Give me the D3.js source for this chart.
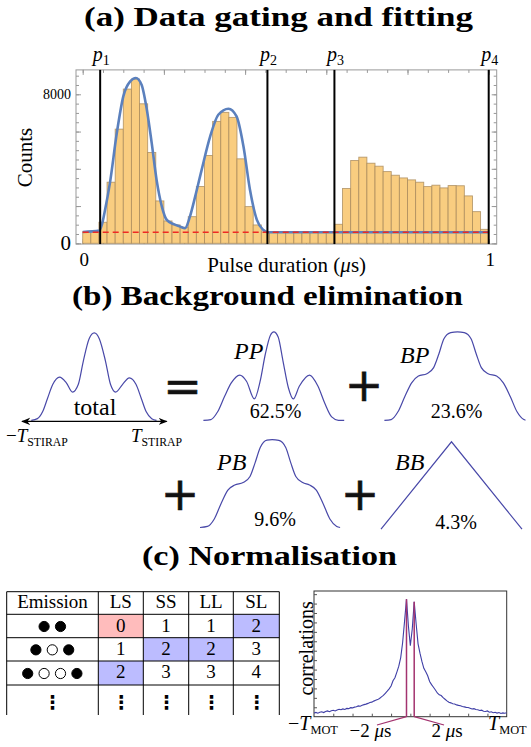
<!DOCTYPE html>
<html>
<head>
<meta charset="utf-8">
<script src="https://cdn.jsdelivr.net/npm/d3@7"></script>
<style>
body{margin:0;background:#fff;}
svg{display:block;}
</style>
</head>
<body>
<svg id="fig" width="531" height="747" font-family="'Liberation Serif', 'Times New Roman', 'DejaVu Serif', serif"></svg>
<script>
// ---- data ----
var panelTitles = ["(a) Data gating and fitting", "(b) Background elimination", "(c) Normalisation"];

// (a) histogram of pulse durations, bins of 0.02 us
var binWidth = 0.02;
var barCounts = [625, 660, 1130, 3280, 6130, 8280, 8820, 7490, 4875, 2275,
                 1200, 985, 860, 1430, 3050, 4715, 6545, 7030, 6760, 4535,
                 1970, 985, 610, 600, 600, 600, 600, 600, 600, 600,
                 600, 1020, 2940, 4445, 4625, 4300, 4140, 3850, 3655, 3510,
                 3405, 3280, 3045, 3120, 2975, 3100, 3090, 2545, 1700, 750];
// fitted curve
var fitX = [0, 0.041, 0.047, 0.055, 0.067, 0.084, 0.100, 0.117, 0.131, 0.145, 0.158, 0.170, 0.182, 0.195, 0.207,
            0.223, 0.240, 0.252, 0.264, 0.277, 0.293, 0.314, 0.334, 0.359, 0.379, 0.396, 0.412, 0.429, 0.445, 0.457, 1.0];
var fitY = [610, 680, 985, 1790, 3230, 5920, 7890, 8695, 8875, 8515, 7170, 5380, 3405, 1970, 1255,
            1040, 895, 805, 1430, 2505, 3945, 5735, 6900, 7225, 6810, 5195, 2870, 1255, 715, 590, 590];
var bgLevel = 590;
var gatePos = [0.043, 0.455, 0.62, 1.0];
var gateNames = ["1", "2", "3", "4"];
var countLabels = [0, 8000];
var durLabels = [0, 1];

// (b) correlation shapes, normalised [t, height]
var totalShape = [[0,0],[0.049,0.019],[0.09,0.097],[0.13,0.253],[0.171,0.409],[0.226,0.494],[0.28,0.428],[0.329,0.323],
  [0.375,0.409],[0.416,0.681],[0.462,0.934],[0.503,1],[0.543,0.934],[0.592,0.681],[0.633,0.409],[0.674,0.323],
  [0.728,0.409],[0.783,0.486],[0.837,0.409],[0.878,0.253],[0.918,0.097],[0.962,0.019],[1,0]];
var ppShape = [[0,0],[0.053,0.008],[0.101,0.096],[0.15,0.269],[0.198,0.423],[0.258,0.512],[0.306,0.442],[0.362,0.242],
  [0.403,0.442],[0.44,0.75],[0.476,0.962],[0.5,1],[0.531,0.942],[0.565,0.673],[0.604,0.365],[0.638,0.242],
  [0.681,0.385],[0.754,0.512],[0.814,0.385],[0.862,0.192],[0.911,0.038],[0.959,0],[1,0]];
var bpShape = [[0,0],[0.048,0.008],[0.096,0.096],[0.145,0.269],[0.193,0.423],[0.241,0.5],[0.301,0.527],[0.349,0.596],
  [0.386,0.75],[0.422,0.923],[0.47,0.992],[0.518,1],[0.566,0.992],[0.614,0.923],[0.651,0.75],[0.687,0.596],
  [0.735,0.527],[0.795,0.5],[0.843,0.423],[0.892,0.269],[0.94,0.096],[0.988,0.008],[1,0]];
var pbShape = [[0,0],[0.053,0.012],[0.102,0.097],[0.15,0.271],[0.199,0.426],[0.248,0.484],[0.308,0.512],[0.357,0.581],
  [0.393,0.736],[0.43,0.911],[0.478,0.996],[0.515,1],[0.563,0.992],[0.612,0.911],[0.648,0.736],[0.684,0.581],
  [0.733,0.512],[0.782,0.484],[0.83,0.426],[0.879,0.271],[0.927,0.097],[0.976,0.012],[1,0]];
var bbShape = [[0,0],[0.5,1],[1,0]];
var shapeNames = ["PP", "BP", "PB", "BB"];
var shareLabels = ["62.5%", "23.6%", "9.6%", "4.3%"];

// (c) table
var tableHead = ["Emission", "LS", "SS", "LL", "SL"];
var emission = [[1,1],[1,0,1],[1,0,0,1]];
var tableVals = [[0,1,1,2],[1,2,2,3],[2,3,3,4]];

// (c) correlations, t from -50 to 50 (step 1)
var corrY = [3.0,3.4,2.8,3.5,3.9,3.3,4.2,4.6,4.0,4.8,
  5.1,4.6,5.4,5.9,5.5,6.2,5.8,6.6,6.4,7.2,
  7.0,7.6,7.9,8.6,8.3,9.1,9.6,10.0,10.6,11.3,
  11.6,12.4,13.0,13.6,14.5,15.8,16.9,18.6,20.3,22.1,
  24.4,28.6,31.0,35.5,40.2,47.0,59.0,76.0,93.5,72.0,
  56.5,
  70.0,91.5,74.0,58.0,50.5,44.0,38.5,35.8,32.6,28.0,
  25.5,23.4,21.2,18.9,17.4,16.8,15.1,13.9,12.6,11.5,
  11.0,10.3,10.1,9.4,9.0,8.7,8.1,7.8,7.4,7.3,
  6.8,6.1,6.4,5.7,5.5,4.9,5.2,4.4,4.1,4.6,
  3.6,3.9,3.2,3.5,2.9,3.3,2.6,3.0,2.7,3.1];
var corrT = d3.range(-50, 51);
var gapMarks = [-2, 2];

var svg = d3.select("#fig");

// ---- titles ----
var titlePos = [[84, 26, 389], [72, 305, 391], [142, 565, 255]];
svg.selectAll(".title").data(panelTitles).join("text")
  .attr("class", "title")
  .attr("x", (d, i) => titlePos[i][0]).attr("y", (d, i) => titlePos[i][1])
  .attr("textLength", (d, i) => titlePos[i][2]).attr("lengthAdjust", "spacingAndGlyphs")
  .attr("font-size", 27).attr("font-weight", "bold")
  .text(d => d);

// ================= (a) =================
var xA = d3.scaleLinear().domain([0, 1]).range([82.7, 488.7]);
var yA = d3.scaleLinear().domain([0, 8000]).range([243.3, 94.3]);
var fA = {x0: xA(-0.0165), x1: xA(1.0197), y0: yA(-40), y1: yA(9310)};

var gA = svg.append("g");
gA.append("rect").attr("x", fA.x0).attr("y", fA.y1)
  .attr("width", fA.x1 - fA.x0).attr("height", fA.y0 - fA.y1)
  .attr("fill", "none").attr("stroke", "#999").attr("stroke-width", 1);

function ticks(axis, tx, ty) {
  gA.append("g").attr("transform", "translate(" + tx + "," + ty + ")")
    .call(axis.tickFormat(""))
    .call(g => g.select(".domain").remove())
    .selectAll("line").attr("stroke", "#999");
}
var cMinor = d3.range(0, 9001, 500), cMajor = d3.range(0, 8001, 2000);
var tMinor = d3.range(0, 1.001, 0.05), tMajor = d3.range(0, 1.001, 0.2);
ticks(d3.axisLeft(yA).tickValues(cMinor).tickSize(-3), fA.x0, 0);
ticks(d3.axisLeft(yA).tickValues(cMajor).tickSize(-5), fA.x0, 0);
ticks(d3.axisRight(yA).tickValues(cMinor).tickSize(-3), fA.x1, 0);
ticks(d3.axisRight(yA).tickValues(cMajor).tickSize(-5), fA.x1, 0);
ticks(d3.axisBottom(xA).tickValues(tMinor).tickSize(-3), 0, fA.y0);
ticks(d3.axisBottom(xA).tickValues(tMajor).tickSize(-5), 0, fA.y0);
ticks(d3.axisTop(xA).tickValues(tMinor).tickSize(-3), 0, fA.y1);
ticks(d3.axisTop(xA).tickValues(tMajor).tickSize(-5), 0, fA.y1);

// bars
gA.append("g").selectAll("rect").data(barCounts).join("rect")
  .attr("x", (d, i) => xA(i * binWidth))
  .attr("width", xA(binWidth) - xA(0))
  .attr("y", d => yA(d))
  .attr("height", d => yA(0) - yA(d))
  .attr("fill", "#f9cd80")
  .attr("stroke", "#a8885a").attr("stroke-opacity", 0.8).attr("stroke-width", 0.9);

// fit
var fitPts = fitX.map((t, i) => [t, fitY[i]]);
gA.append("path").datum(fitPts)
  .attr("d", d3.line().x(d => xA(d[0])).y(d => yA(d[1])).curve(d3.curveMonotoneX))
  .attr("fill", "none").attr("stroke", "#5b80bd").attr("stroke-width", 2.6);

// background level
gA.append("line")
  .attr("x1", xA(0)).attr("x2", xA(1)).attr("y1", yA(bgLevel)).attr("y2", yA(bgLevel))
  .attr("stroke", "#ee2a24").attr("stroke-width", 1.4).attr("stroke-dasharray", "6,4");

// gates
var gates = gA.append("g").selectAll("g").data(gatePos).join("g");
gates.append("line")
  .attr("x1", d => xA(d)).attr("x2", d => xA(d))
  .attr("y1", fA.y1).attr("y2", fA.y0)
  .attr("stroke", "#000").attr("stroke-width", 2);
gates.append("text")
  .attr("x", d => xA(d) + 1).attr("y", 61)
  .attr("text-anchor", "middle").attr("font-size", 20)
  .each(function(d, i) {
    var t = d3.select(this);
    t.append("tspan").attr("font-style", "italic").text("p");
    t.append("tspan").attr("dy", 4).attr("font-size", 14).text(gateNames[i]);
  });

// axis labels
gA.selectAll(".clab").data(countLabels).join("text")
  .attr("class", "clab")
  .attr("x", 71).attr("y", d => yA(d) + (d === 0 ? 7 : 5))
  .attr("text-anchor", "end")
  .attr("font-size", d => d === 0 ? 21 : 14)
  .text(d => d);
gA.selectAll(".tlab").data(durLabels).join("text")
  .attr("class", "tlab")
  .attr("x", d => xA(d) + 1.5).attr("y", 265.5)
  .attr("text-anchor", "middle").attr("font-size", 19)
  .text(d => d);
var xTitle = gA.append("text").attr("x", 286.7).attr("y", 272.3)
  .attr("text-anchor", "middle").attr("font-size", 21);
xTitle.append("tspan").text("Pulse duration (");
xTitle.append("tspan").attr("font-style", "italic").text("μ");
xTitle.append("tspan").text("s)");
gA.append("text").attr("transform", "translate(32.3,157.5) rotate(-90)")
  .attr("text-anchor", "middle").attr("font-size", 21).text("Counts");

// ================= (b) =================
var gB = svg.append("g");
var blue = "#4848a8";
function drawShape(shape, box) {
  var sx = d3.scaleLinear().domain([0, 1]).range([box[0], box[1]]);
  var sy = d3.scaleLinear().domain([0, 1]).range([box[2], box[3]]);
  gB.append("path").datum(shape)
    .attr("d", d3.line().x(d => sx(d[0])).y(d => sy(d[1]))
      .curve(shape.length > 3 ? d3.curveMonotoneX : d3.curveLinear))
    .attr("fill", "none").attr("stroke", blue).attr("stroke-width", 1.2);
}
drawShape(totalShape, [31.3, 156.5, 420.3, 332.9]);
drawShape(ppShape, [203.4, 344.2, 420.3, 331.9]);
drawShape(bpShape, [384.4, 525.5, 420.3, 331.9]);
drawShape(pbShape, [200, 340.1, 527.5, 439.7]);
drawShape(bbShape, [381, 522, 529.2, 441.8]);

// double arrow under "total"
var defs = svg.append("defs");
["a1", "a2"].forEach(function(id, k) {
  defs.append("marker").attr("id", id)
    .attr("viewBox", "0 0 10 10").attr("refX", k ? 9 : 1).attr("refY", 5)
    .attr("markerWidth", 9).attr("markerHeight", 9).attr("markerUnits", "userSpaceOnUse")
    .attr("orient", "auto")
    .append("path").attr("d", k ? "M0,1 L10,5 L0,9 L3,5 Z" : "M10,1 L0,5 L10,9 L7,5 Z")
    .attr("fill", "#000");
});
gB.append("line").attr("x1", 22).attr("x2", 166.7).attr("y1", 421.4).attr("y2", 421.4)
  .attr("stroke", "#000").attr("stroke-width", 1.1)
  .attr("marker-start", "url(#a1)").attr("marker-end", "url(#a2)");
gB.append("text").attr("x", 95).attr("y", 415).attr("text-anchor", "middle")
  .attr("font-size", 24).text("total");

function subText(g, x, y, pre, main, sub, size, anchor) {
  var t = g.append("text").attr("x", x).attr("y", y).attr("font-size", size)
    .attr("text-anchor", anchor || "start");
  if (pre) t.append("tspan").text(pre);
  t.append("tspan").attr("font-style", "italic").text(main);
  t.append("tspan").attr("dy", 4).attr("font-size", size * 0.62).text(sub);
  return t;
}
subText(gB, 6, 442.4, "−", "T", "STIRAP", 19);
subText(gB, 131, 442.4, "", "T", "STIRAP", 19);

var namePos = [[234, 359], [400, 362.5], [217, 469.7], [395, 469.7]];
gB.selectAll(".sname").data(shapeNames).join("text")
  .attr("class", "sname")
  .attr("x", (d, i) => namePos[i][0]).attr("y", (d, i) => namePos[i][1])
  .attr("font-size", 24).attr("font-style", "italic").text(d => d);
var sharePos = [[275.5, 418], [456.5, 418], [275, 525.8], [456, 528.8]];
gB.selectAll(".share").data(shareLabels).join("text")
  .attr("class", "share")
  .attr("x", (d, i) => sharePos[i][0]).attr("y", (d, i) => sharePos[i][1])
  .attr("text-anchor", "middle").attr("font-size", 20).text(d => d);

var signPos = [["=", 182.5, 386], ["+", 364, 385.5], ["+", 180, 494.5], ["+", 360, 494.5]];
gB.selectAll(".sign").data(signPos).join("text")
  .attr("class", "sign")
  .attr("x", d => d[1]).attr("y", d => d[2] + 15.6)
  .attr("text-anchor", "middle")
  .attr("font-family", "DejaVu Sans").attr("font-size", 46)
  .attr("fill", "#111").attr("stroke", "#111").attr("stroke-width", 0.6)
  .text(d => d[0]);

// ================= (c) table =================
var gT = svg.append("g");
var colX = [6.7, 98.3, 143.3, 188.7, 233.3, 279.3];
var rowY = [591.7, 614.3, 637.7, 661, 685, 715];
var cellFill = {0: "#ffbcbc", 2: "#bcbcff"};
tableVals.forEach(function(row, r) {
  row.forEach(function(v, c) {
    if (cellFill[v]) {
      gT.append("rect").attr("x", colX[c + 1]).attr("y", rowY[r + 1])
        .attr("width", colX[c + 2] - colX[c + 1]).attr("height", rowY[r + 2] - rowY[r + 1])
        .attr("fill", cellFill[v]);
    }
    gT.append("text").attr("x", (colX[c + 1] + colX[c + 2]) / 2).attr("y", rowY[r + 1] + 17.3)
      .attr("text-anchor", "middle").attr("font-size", 19).text(v);
  });
  var n = emission[r].length;
  gT.selectAll(".em" + r).data(emission[r]).join("circle")
    .attr("class", "em" + r)
    .attr("cx", (d, j) => 52.3 + (j - (n - 1) / 2) * 16.4)
    .attr("cy", (rowY[r + 1] + rowY[r + 2]) / 2 + 0.5)
    .attr("r", 5.1)
    .attr("fill", d => d ? "#000" : "#fff")
    .attr("stroke", "#000").attr("stroke-width", 1);
});
tableHead.forEach(function(h, c) {
  gT.append("text").attr("x", (colX[c] + colX[c + 1]) / 2).attr("y", 608.3)
    .attr("text-anchor", "middle").attr("font-size", 19).text(h);
  gT.append("text").attr("x", (colX[c] + colX[c + 1]) / 2 + (c === 0 ? 0 : 0.5)).attr("y", 708.5)
    .attr("text-anchor", "middle").attr("font-family", "DejaVu Sans").attr("font-weight", "bold")
    .attr("font-size", 19).text("⋮");
});
rowY.slice(0, 5).forEach(function(yv) {
  gT.append("line").attr("x1", colX[0]).attr("x2", colX[5]).attr("y1", yv).attr("y2", yv)
    .attr("stroke", "#000").attr("stroke-width", 1);
});
colX.forEach(function(xv) {
  gT.append("line").attr("x1", xv).attr("x2", xv).attr("y1", rowY[0]).attr("y2", rowY[5])
    .attr("stroke", "#000").attr("stroke-width", 1);
});

// ================= (c) correlations =================
var gC = svg.append("g");
var xC = d3.scaleLinear().domain([-50, 50]).range([314, 506.7]);
var yC = d3.scaleLinear().domain([0, 100]).range([716.7, 591]);
gC.append("rect").attr("x", xC(-50)).attr("y", yC(100))
  .attr("width", xC(50) - xC(-50)).attr("height", yC(0) - yC(100))
  .attr("fill", "none").attr("stroke", "#333").attr("stroke-width", 1);
gC.append("g").attr("transform", "translate(" + xC(-50) + ",0)")
  .call(d3.axisLeft(yC).tickValues(d3.range(7.5, 100, 7.5)).tickSize(-3).tickFormat(""))
  .call(g => g.select(".domain").remove()).selectAll("line").attr("stroke", "#555");
gC.append("g").attr("transform", "translate(0," + yC(0) + ")")
  .call(d3.axisBottom(xC).tickValues(d3.range(-40, 41, 10)).tickSize(-3).tickFormat(""))
  .call(g => g.select(".domain").remove()).selectAll("line").attr("stroke", "#555");

gC.append("path").datum(corrY)
  .attr("d", d3.line().x((d, i) => xC(corrT[i])).y(d => yC(d)))
  .attr("fill", "none").attr("stroke", "#3e3ea6").attr("stroke-width", 1.1);

var mag = "#a3336f";
var labelEnds = [[377, 725], [444, 725]];
gapMarks.forEach(function(t, k) {
  var v = corrY[corrT.indexOf(t)];
  gC.append("line").attr("x1", xC(t)).attr("x2", xC(t)).attr("y1", yC(v)).attr("y2", yC(0))
    .attr("stroke", mag).attr("stroke-width", 1.5);
  gC.append("line").attr("x1", xC(t)).attr("x2", labelEnds[k][0]).attr("y1", yC(0)).attr("y2", labelEnds[k][1])
    .attr("stroke", mag).attr("stroke-width", 1.2);
});

gC.append("text").attr("transform", "translate(312.5,648.3) rotate(-90)")
  .attr("text-anchor", "middle").attr("font-size", 20).text("correlations");
subText(gC, 288, 730, "−", "T", "MOT", 20);
subText(gC, 488, 730, "", "T", "MOT", 20);
var gapText = gC.selectAll(".gap").data(gapMarks).join("text")
  .attr("class", "gap")
  .attr("x", (d, k) => k ? 447 : 370.5).attr("y", 736.7)
  .attr("text-anchor", "middle").attr("font-size", 19);
gapText.append("tspan").text(d => (d < 0 ? "−" : "") + Math.abs(d) + " ");
gapText.append("tspan").attr("font-style", "italic").text("μ");
gapText.append("tspan").text("s");
</script>
</body>
</html>
